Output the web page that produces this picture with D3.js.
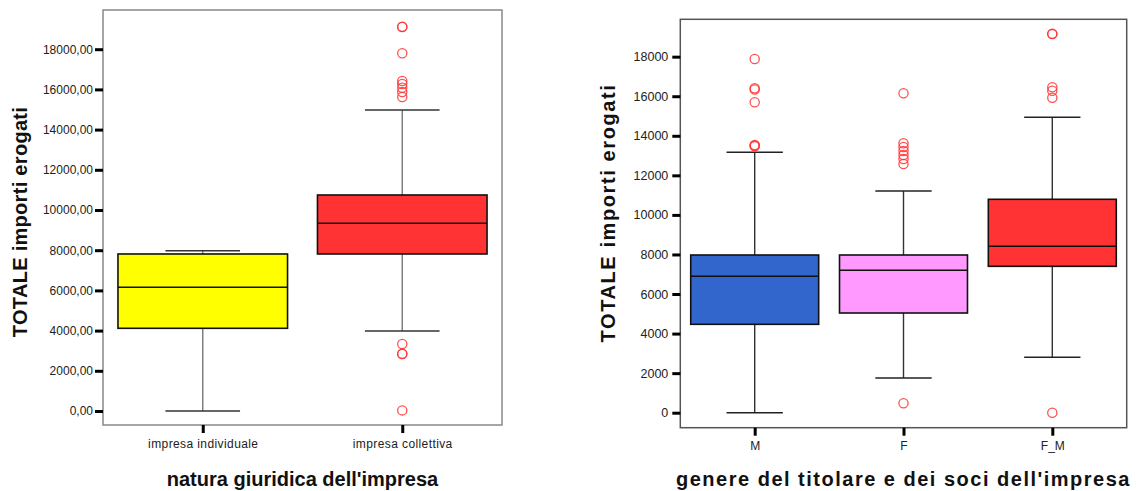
<!DOCTYPE html>
<html>
<head>
<meta charset="utf-8">
<script src="https://cdn.jsdelivr.net/npm/d3@7"></script>
<style>
  html, body { margin: 0; padding: 0; background: #fff; }
  svg { display: block; font-family: "Liberation Sans", Arial, sans-serif; }
</style>
</head>
<body>
<svg id="chart" width="1144" height="491"></svg>
<script>
// Panel 1: amounts by legal form of the business
const naturaCategories = ["impresa individuale", "impresa collettiva"];
const naturaColors = ["#ffff00", "#ff3333"];
const naturaLow = [0, 3980];          // lower whisker
const naturaQ1 = [4114, 7811];
const naturaMedian = [6154, 9338];
const naturaQ3 = [7811, 10746];
const naturaHigh = [7975, 14975];     // upper whisker
const naturaOutliers = [
  [],
  [19120, 19104, 17796, 16418, 16269, 16085, 15871, 15622, 3333, 2836, 2850, 30]
];
const naturaTicks = [0, 2000, 4000, 6000, 8000, 10000, 12000, 14000, 16000, 18000];

// Panel 2: amounts by gender of owner and partners
const genereCategories = ["M", "F", "F_M"];
const genereColors = ["#3366cc", "#ff99ff", "#ff3333"];
const genereLow = [0, 1754, 2801];
const genereQ1 = [4469, 5040, 7401];
const genereMedian = [6896, 7199, 8413];
const genereQ3 = [7973, 7973, 10789];
const genereHigh = [13165, 11208, 14934];
const genereOutliers = [
  [17882, 16400, 16340, 15693, 13530, 13498, 13470],
  [16148, 13620, 13433, 13231, 13029, 12826, 12574, 475],
  [19161, 19140, 16451, 16279, 15925, 0]
];
const genereTicks = [0, 2000, 4000, 6000, 8000, 10000, 12000, 14000, 16000, 18000];

const svg = d3.select("#chart");

function boxPanel(opt) {
  const g = svg.append("g");
  const x = d3.scalePoint().domain(opt.categories).range([opt.left, opt.right]).padding(0.5);
  const y = d3.scaleLinear().domain(opt.domain).range([opt.bottom, opt.top]);
  const step = x.step();
  const boxW = step * opt.boxFrac;
  const capW = boxW * 0.44;

  // frame
  g.append("rect")
    .attr("x", opt.left).attr("y", opt.top)
    .attr("width", opt.right - opt.left).attr("height", opt.bottom - opt.top)
    .attr("fill", "none").attr("stroke", opt.frameColor).attr("stroke-width", 1.5);

  // y axis
  const yAxis = d3.axisLeft(y).tickValues(opt.ticks).tickSize(8).tickPadding(opt.yPad)
    .tickFormat(opt.tickFormat);
  const ya = g.append("g").attr("transform", `translate(${opt.left},0)`).call(yAxis);
  ya.select(".domain").remove();
  ya.selectAll(".tick line").attr("stroke", "#000").attr("stroke-width", 3);
  ya.selectAll(".tick text").attr("font-size", opt.yFont).attr("fill", "#222")
    .attr("font-family", "Liberation Sans, Arial, sans-serif");

  // x axis
  const xAxis = d3.axisBottom(x).tickSize(8).tickPadding(6);
  const xa = g.append("g").attr("transform", `translate(0,${opt.bottom})`).call(xAxis);
  xa.select(".domain").remove();
  xa.selectAll(".tick line").attr("stroke", "#000").attr("stroke-width", 3);
  xa.selectAll(".tick text").attr("font-size", 12).attr("fill", "#222")
    .attr("font-family", "Liberation Sans, Arial, sans-serif")
    .attr("letter-spacing", opt.catSpacing);

  opt.categories.forEach((c, i) => {
    const cx = x(c);
    // whiskers
    g.append("line").attr("x1", cx).attr("x2", cx)
      .attr("y1", y(opt.q3[i])).attr("y2", y(opt.high[i]))
      .attr("stroke", opt.whiskerColor).attr("stroke-width", 1.4);
    g.append("line").attr("x1", cx).attr("x2", cx)
      .attr("y1", y(opt.q1[i])).attr("y2", y(opt.low[i]))
      .attr("stroke", opt.whiskerColor).attr("stroke-width", 1.4);
    [opt.high[i], opt.low[i]].forEach(v => {
      g.append("line").attr("x1", cx - capW / 2).attr("x2", cx + capW / 2)
        .attr("y1", y(v)).attr("y2", y(v))
        .attr("stroke", opt.capColor).attr("stroke-width", 1.4);
    });
    // box
    g.append("rect")
      .attr("x", cx - boxW / 2).attr("y", y(opt.q3[i]))
      .attr("width", boxW).attr("height", y(opt.q1[i]) - y(opt.q3[i]))
      .attr("fill", opt.colors[i]).attr("stroke", "#111").attr("stroke-width", 1.6);
    g.append("line").attr("x1", cx - boxW / 2).attr("x2", cx + boxW / 2)
      .attr("y1", y(opt.median[i])).attr("y2", y(opt.median[i]))
      .attr("stroke", "#111").attr("stroke-width", 1.4);
    // outliers
    g.selectAll(null).data(opt.outliers[i]).enter().append("circle")
      .attr("cx", cx).attr("cy", d => y(d)).attr("r", 4.6)
      .attr("fill", "none").attr("stroke", "#ff3333")
      .attr("stroke-opacity", 0.85).attr("stroke-width", 1.3);
  });

  // axis titles
  g.append("text")
    .attr("transform", `translate(${opt.yTitleX},${opt.yTitleY}) rotate(-90)`)
    .attr("text-anchor", "middle").attr("font-size", opt.yTitleFont).attr("font-weight", "bold")
    .attr("letter-spacing", opt.yTitleSpacing)
    .attr("fill", "#111").text("TOTALE importi erogati");
  g.append("text")
    .attr("x", (opt.left + opt.right) / 2).attr("y", opt.xTitleY)
    .attr("text-anchor", "middle").attr("font-size", 20).attr("font-weight", "bold")
    .attr("letter-spacing", opt.titleSpacing)
    .attr("fill", "#111").text(opt.xTitle);
}

const fmtComma = d => d3.format(".2f")(d).replace(".", ",");

boxPanel({
  categories: naturaCategories, colors: naturaColors,
  low: naturaLow, q1: naturaQ1, median: naturaMedian, q3: naturaQ3, high: naturaHigh,
  outliers: naturaOutliers, ticks: naturaTicks, tickFormat: fmtComma,
  left: 103, right: 502, top: 10, bottom: 425, domain: [-697, 19950],
  boxFrac: 0.85, frameColor: "#888", whiskerColor: "#777", capColor: "#333",
  yPad: 2, yFont: 12,
  yTitleX: 27, yTitleY: 222, yTitleFont: 20, yTitleSpacing: 0.3,
  xTitleY: 486, xTitle: "natura giuridica dell'impresa",
  titleSpacing: 0, catSpacing: 0.4
});

boxPanel({
  categories: genereCategories, colors: genereColors,
  low: genereLow, q1: genereQ1, median: genereMedian, q3: genereQ3, high: genereHigh,
  outliers: genereOutliers, ticks: genereTicks, tickFormat: d3.format("d"),
  left: 680.3, right: 1126.7, top: 19.3, bottom: 427.7, domain: [-758, 19889],
  boxFrac: 0.86, frameColor: "#555", whiskerColor: "#333", capColor: "#222",
  yPad: 4, yFont: 12.5,
  yTitleX: 615, yTitleY: 213, yTitleFont: 20, yTitleSpacing: 1.6,
  xTitleY: 486, xTitle: "genere del titolare e dei soci dell'impresa",
  titleSpacing: 1.5, catSpacing: 0
});
</script>
</body>
</html>
